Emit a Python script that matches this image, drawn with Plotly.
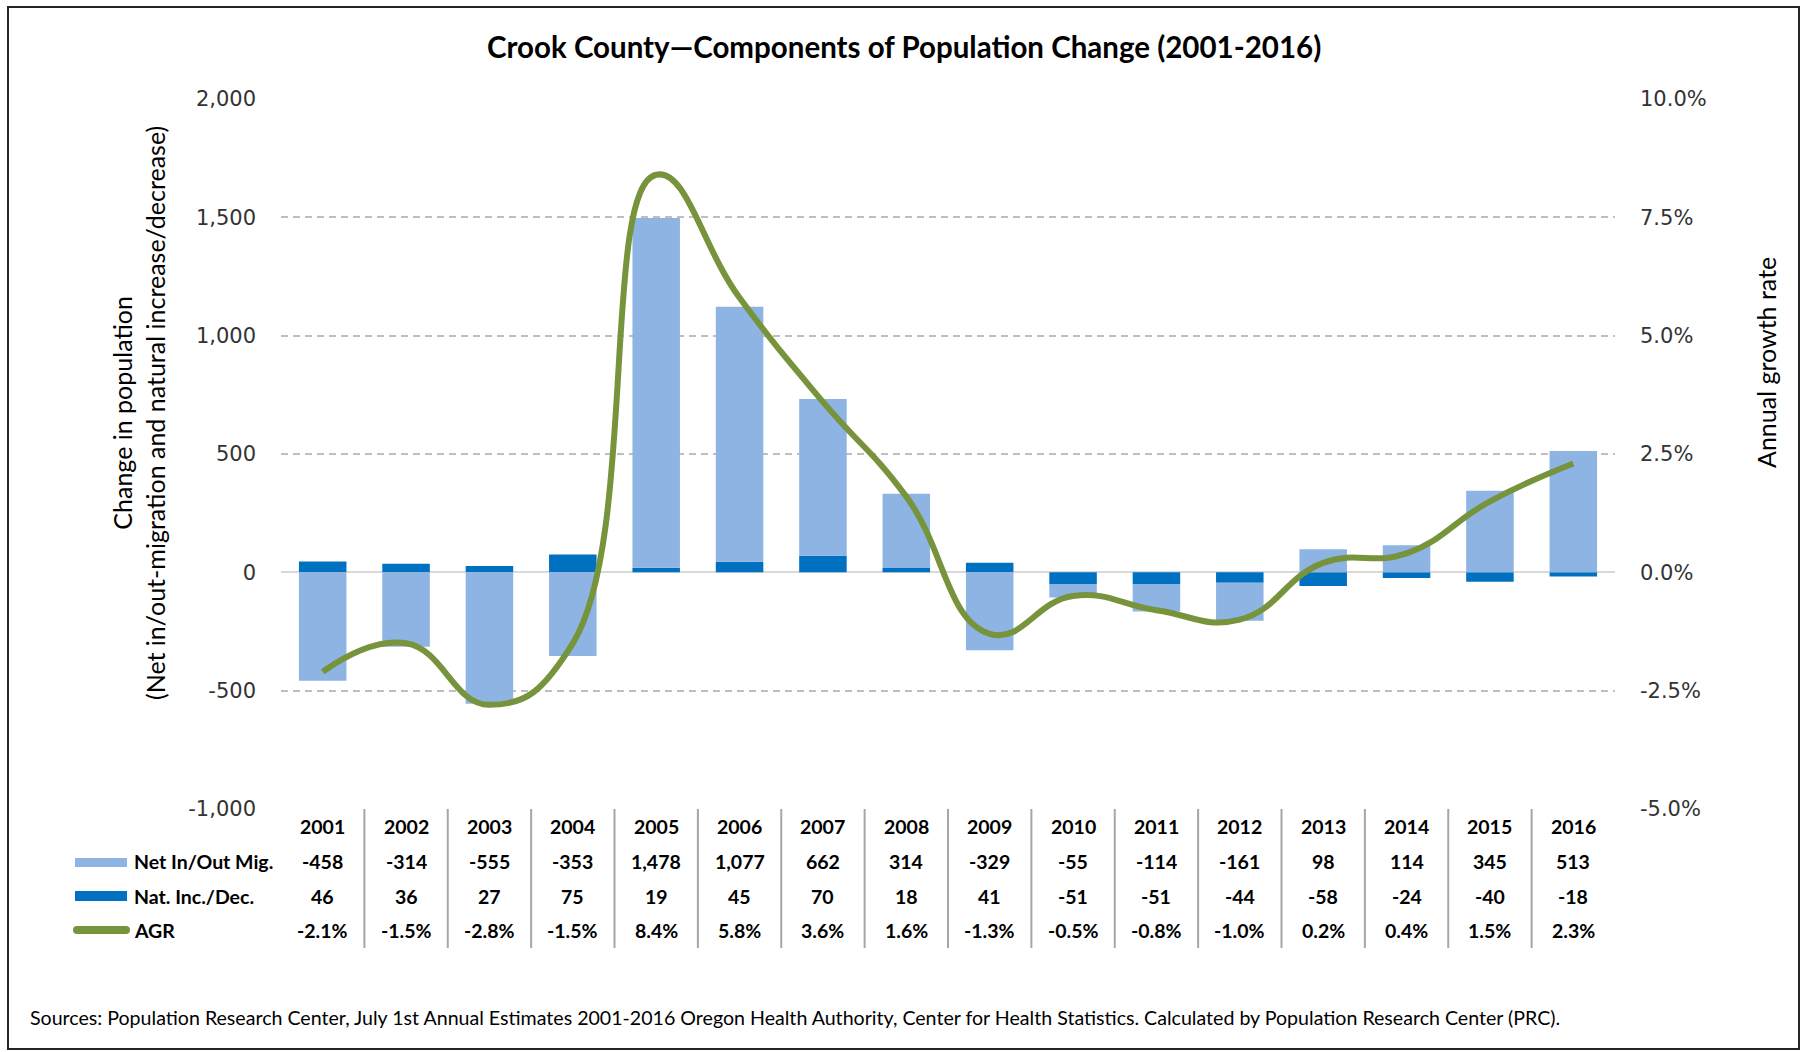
import plotly.graph_objects as go

years = [2001, 2002, 2003, 2004, 2005, 2006, 2007, 2008,
         2009, 2010, 2011, 2012, 2013, 2014, 2015, 2016]
net_mig = [-458, -314, -555, -353, 1478, 1077, 662, 314,
           -329, -55, -114, -161, 98, 114, 345, 513]
nat_inc = [46, 36, 27, 75, 19, 45, 70, 18,
           41, -51, -51, -44, -58, -24, -40, -18]
agr = [-2.1, -1.5, -2.8, -1.5, 8.4, 5.8, 3.6, 1.6,
       -1.3, -0.5, -0.8, -1.0, 0.2, 0.4, 1.5, 2.3]

y_ticks = [-1000, -500, 0, 500, 1000, 1500, 2000]
y2_ticks = [-0.05, -0.025, 0, 0.025, 0.05, 0.075, 0.10]

title_text = "Crook County\u2014Components of Population Change (2001-2016)"
left_title = "Change in population<br>(Net in/out-migration and natural increase/decrease)"
right_title = "Annual growth rate"
source_text = ("Sources: Population Research Center, July 1st Annual Estimates 2001-2016 Oregon Health "
               "Authority, Center for Health Statistics. Calculated by Population Research Center (PRC).")
row_names = ["Net In/Out Mig.", "Nat. Inc./Dec.", "AGR"]

LIGHT = "#8EB4E3"
DARK = "#0070C0"
GREEN = "#77933C"

W_FIG, H_FIG = 1807, 1052
L, R, T, B = 281, 1615, 99, 809
PW, PH = R - L, B - T


def px(xp):
    return (xp - L) / PW


def py(yp):
    return (B - yp) / PH


fig = go.Figure()
fig.add_trace(go.Bar(x=years, y=nat_inc, name="Nat. Inc./Dec.", marker_color=DARK,
                     marker_line_width=0))
fig.add_trace(go.Bar(x=years, y=net_mig, name="Net In/Out Mig.", marker_color=LIGHT,
                     marker_line_width=0))
fig.add_trace(go.Scatter(x=years, y=[v / 100 for v in agr], name="AGR", yaxis="y2",
                         mode="lines", line=dict(color=GREEN, width=6, shape="spline",
                                                 smoothing=1.3)))

tick_font = dict(family="DejaVu Sans", size=21, color="#333333")

fig.update_layout(
    width=W_FIG, height=H_FIG,
    margin=dict(l=L, r=W_FIG - R, t=T, b=H_FIG - B, pad=0),
    paper_bgcolor="white", plot_bgcolor="white",
    barmode="relative", bargap=0.43,
    showlegend=False,
    xaxis=dict(range=[2000.5, 2016.5], showticklabels=False, showgrid=False,
               zeroline=False, showline=False, ticks=""),
    yaxis=dict(range=[-1000, 2000], tickvals=y_ticks,
               ticktext=[f"{v:,}" for v in y_ticks],
               showgrid=True, gridcolor="#BFBFBF", griddash="7px,5px", gridwidth=1.5,
               zeroline=True, zerolinecolor="#D9D9D9", zerolinewidth=2,
               showline=False, ticks="", tickfont=tick_font, ticklabelstandoff=24),
    yaxis2=dict(range=[-0.05, 0.10], tickvals=y2_ticks,
                ticktext=[f"{v*100:.1f}%" for v in y2_ticks],
                overlaying="y", side="right", showgrid=False, zeroline=False,
                showline=False, ticks="", tickfont=tick_font, ticklabelstandoff=24),
)

annotations = []
annotations.append(dict(text=f"<b>{title_text}</b>", xref="paper", yref="paper",
                        x=px(W_FIG / 2), y=py(46), xanchor="center", yanchor="middle",
                        showarrow=False, font=dict(family="Lato", size=29.5, color="#000000")))
annotations.append(dict(text=left_title, xref="paper", yref="paper", x=px(138), y=py(413),
                        xanchor="center", yanchor="middle", textangle=-90, showarrow=False,
                        font=dict(family="Lato", size=25, color="#000000")))
annotations.append(dict(text=right_title, xref="paper", yref="paper", x=px(1766), y=py(363),
                        xanchor="center", yanchor="middle", textangle=-90, showarrow=False,
                        font=dict(family="Lato", size=25, color="#000000")))
annotations.append(dict(text=source_text, xref="paper", yref="paper", x=px(28), y=py(1017),
                        xanchor="left", yanchor="middle", showarrow=False,
                        font=dict(family="Lato", size=19.6, color="#000000")))

row_y = [826, 862, 896, 930]
tfont = dict(family="Lato", size=19.5, color="#000000")
for i, yr in enumerate(years):
    annotations.append(dict(text=f"<b>{yr}</b>", xref="x", yref="paper", x=yr, y=py(row_y[0]),
                            xanchor="center", yanchor="middle", showarrow=False, font=tfont))
    annotations.append(dict(text=f"<b>{net_mig[i]:,}</b>", xref="x", yref="paper", x=yr,
                            y=py(row_y[1]), xanchor="center", yanchor="middle",
                            showarrow=False, font=tfont))
    annotations.append(dict(text=f"<b>{nat_inc[i]:,}</b>", xref="x", yref="paper", x=yr,
                            y=py(row_y[2]), xanchor="center", yanchor="middle",
                            showarrow=False, font=tfont))
    annotations.append(dict(text=f"<b>{agr[i]:.1f}%</b>", xref="x", yref="paper", x=yr,
                            y=py(row_y[3]), xanchor="center", yanchor="middle",
                            showarrow=False, font=tfont))
for j, name in enumerate(row_names):
    annotations.append(dict(text=f"<b>{name}</b>", xref="paper", yref="paper", x=px(132),
                            y=py(row_y[j + 1]), xanchor="left", yanchor="middle",
                            showarrow=False, font=tfont))

shapes = []
for k in range(1, len(years)):
    xb = years[0] - 0.5 + k
    shapes.append(dict(type="line", xref="x", yref="paper", x0=xb, x1=xb, y0=py(809), y1=py(948),
                       line=dict(color="#A6A6A6", width=2)))
shapes.append(dict(type="rect", xref="paper", yref="paper", x0=px(75), x1=px(127),
                   y0=py(858), y1=py(867), fillcolor=LIGHT, line=dict(width=0)))
shapes.append(dict(type="rect", xref="paper", yref="paper", x0=px(75), x1=px(127),
                   y0=py(891), y1=py(901), fillcolor=DARK, line=dict(width=0)))
shapes.append(dict(type="line", xref="paper", yref="paper", x0=px(77), x1=px(126),
                   y0=py(930), y1=py(930), line=dict(color=GREEN, width=8)))
for cx in (77, 126):
    shapes.append(dict(type="circle", xref="paper", yref="paper", x0=px(cx - 4), x1=px(cx + 4),
                       y0=py(934), y1=py(926), fillcolor=GREEN, line=dict(width=0)))
shapes.append(dict(type="rect", xref="paper", yref="paper", x0=px(8), x1=px(1799),
                   y0=py(1049), y1=py(7), line=dict(color="#262626", width=2),
                   fillcolor="rgba(0,0,0,0)", layer="above"))

fig.update_layout(annotations=annotations, shapes=shapes)
fig.write_html("out.html", config={"displayModeBar": False},
               post_script="document.body.style.margin='0';document.body.style.overflow='hidden';")
